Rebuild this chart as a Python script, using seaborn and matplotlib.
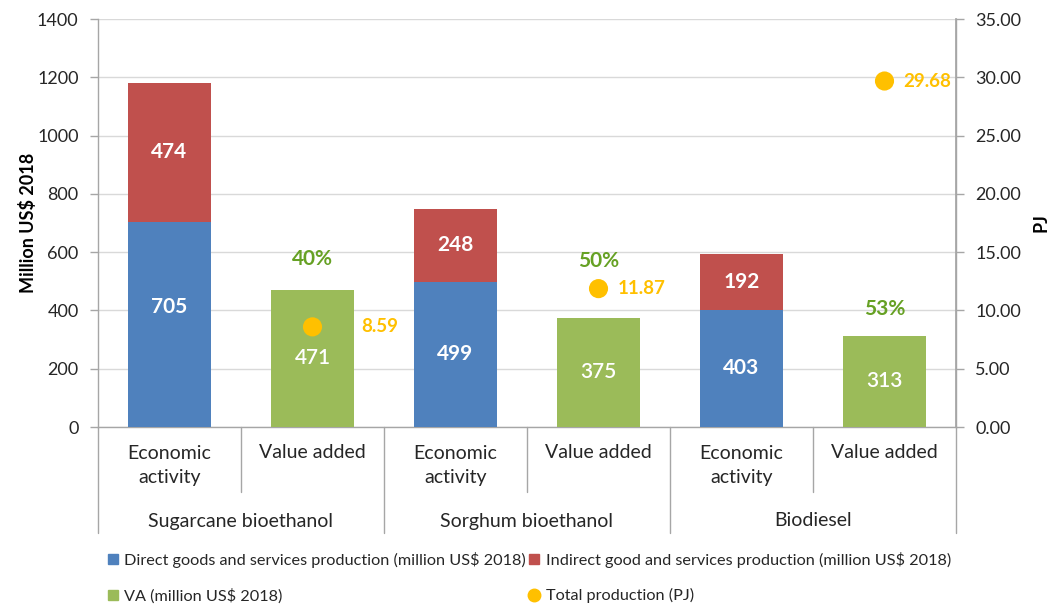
import matplotlib
matplotlib.use("Agg")
import matplotlib.pyplot as plt
import matplotlib.transforms as mtransforms
from matplotlib.patches import Patch
from matplotlib.lines import Line2D
import seaborn as sns
import pandas as pd

sns.set_theme(style="white")
plt.rcParams['font.family'] = ['Lato', 'DejaVu Sans']

# ---------------- data ----------------
groups = ["Sugarcane bioethanol", "Sorghum bioethanol", "Biodiesel"]
bar_kinds = ["Economic\nactivity", "Value added"]
direct = [705, 499, 403]
indirect = [474, 248, 192]
va = [471, 375, 313]
pj = [8.59, 11.87, 29.68]
va_share = ["40%", "50%", "53%"]
left_ticks = [0, 200, 400, 600, 800, 1000, 1200, 1400]
right_ticks = [0, 5, 10, 15, 20, 25, 30, 35]

legend_labels = ["Direct goods and services production (million US$ 2018)",
                 "Indirect good and services production (million US$ 2018)",
                 "VA (million US$ 2018)",
                 "Total production (PJ)"]

# ---------------- layout / style ----------------
C_BLUE = "#4F81BD"
C_RED = "#C0504D"
C_GREEN = "#9BBB59"
C_ORANGE = "#FFC000"
C_PCT = "#66A124"
C_AXIS = "#A6A6A6"
C_GRID = "#D9D9D9"
C_TEXT = "#262626"

positions = [f"{g}|{k}" for g in groups for k in ["econ", "va"]]
econ_pos = [f"{g}|econ" for g in groups]
va_pos = [f"{g}|va" for g in groups]

df_econ = pd.DataFrame({"pos": econ_pos,
                        "direct": direct,
                        "total": [d + i for d, i in zip(direct, indirect)]})
df_va = pd.DataFrame({"pos": va_pos, "va": va})
df_pj = pd.DataFrame({"x": [positions.index(p) for p in va_pos], "pj": pj})

W, H = 1056, 610
fig = plt.figure(figsize=(W / 100, H / 100), dpi=100)
ax = fig.add_axes([98 / W, 1 - 427 / H, (956 - 98) / W, 408 / H])

bw = 0.585
sns.barplot(data=df_econ, x="pos", y="total", order=positions, color=C_RED,
            width=bw, saturation=1, ax=ax, zorder=2)
sns.barplot(data=df_econ, x="pos", y="direct", order=positions, color=C_BLUE,
            width=bw, saturation=1, ax=ax, zorder=3)
sns.barplot(data=df_va, x="pos", y="va", order=positions, color=C_GREEN,
            width=bw, saturation=1, ax=ax, zorder=3)
for p in ax.patches:
    p.set_edgecolor("none")

ax.set_xlim(-0.5, 5.5)
ax.set_ylim(0, 1400)
ax.set_yticks(left_ticks)
ax.set_yticklabels([str(t) for t in left_ticks])
ax.set_xticks([])
ax.set_xlabel("")
ax.set_ylabel("Million US$ 2018", fontsize=13, fontweight="bold", color="black", labelpad=0)
ax.yaxis.grid(True, color=C_GRID, linewidth=1, zorder=0)
ax.set_axisbelow(True)
ax.spines["top"].set_visible(False)
for s in ["left", "right", "bottom"]:
    ax.spines[s].set_color(C_AXIS)
    ax.spines[s].set_linewidth(1)
ax.tick_params(axis="y", which="both", direction="out", length=6, width=1,
               color=C_AXIS, labelsize=13, labelcolor=C_TEXT, pad=8, left=True)

# value labels on bars
for i in range(len(groups)):
    xe = positions.index(econ_pos[i])
    xv = positions.index(va_pos[i])
    yd = direct[i] / 2
    if i == 0:
        yd = direct[i] / 2 + 60
    ax.text(xe, yd, f"{direct[i]}", ha="center", va="center", color="white",
            fontsize=15, fontweight="bold", zorder=5)
    ax.text(xe, direct[i] + indirect[i] / 2, f"{indirect[i]}", ha="center", va="center",
            color="white", fontsize=15, fontweight="bold", zorder=5)
    ax.text(xv, va[i] / 2, f"{va[i]}", ha="center", va="center", color="white",
            fontsize=15, fontweight="semibold", zorder=5)

pct_y = [576, 570, 405]
for i in range(len(groups)):
    xv = positions.index(va_pos[i])
    ax.text(xv, pct_y[i], va_share[i], ha="center", va="center", color=C_PCT,
            fontsize=15, fontweight="bold", zorder=5)

# secondary axis
ax2 = ax.twinx()
sns.scatterplot(data=df_pj, x="x", y="pj", ax=ax2, color=C_ORANGE, s=190,
                edgecolor="none", zorder=6, legend=False)
ax2.set_ylim(0, 35)
ax2.set_xlim(-0.5, 5.5)
ax2.set_yticks(right_ticks)
ax2.set_yticklabels([f"{t:.2f}" for t in right_ticks])
ax2.set_xlabel("")
ax2.set_ylabel("PJ", fontsize=13, fontweight="bold", color="black", labelpad=8)
for s in ["top", "left", "bottom"]:
    ax2.spines[s].set_visible(False)
ax2.spines["right"].set_color(C_AXIS)
ax2.tick_params(axis="y", which="both", direction="out", length=6, width=1,
                color=C_AXIS, labelsize=13, labelcolor=C_TEXT, pad=8, right=True)

pj_dx = [49, 19, 19]  # pixel offset of labels from dots
for i in range(len(groups)):
    xv = df_pj["x"][i]
    off = mtransforms.offset_copy(ax2.transData, fig=fig, x=pj_dx[i], y=0, units="dots")
    ax2.text(xv, pj[i], f"{pj[i]:.2f}", transform=off, ha="left", va="center",
             color=C_ORANGE, fontsize=13.5, fontweight="bold", zorder=7)

# hierarchical category axis
trans = mtransforms.blended_transform_factory(ax.transData, ax.transAxes)
y_short = -65 / 408
y_long = -106 / 408
for xb in [-0.5, 1.5, 3.5, 5.5]:
    ax.plot([xb, xb], [0, y_long], transform=trans, color=C_AXIS, lw=1, clip_on=False)
for xb in [0.5, 2.5, 4.5]:
    ax.plot([xb, xb], [0, y_short], transform=trans, color=C_AXIS, lw=1, clip_on=False)
for gi, g in enumerate(groups):
    for ki, k in enumerate(bar_kinds):
        xp = gi * 2 + ki
        yk = -38.5 / 408 if "\n" in k else -26 / 408
        ax.text(xp, yk, k, transform=trans, ha="center", va="center", fontsize=14,
                color=C_TEXT, linespacing=1.45)
    ax.text(gi * 2 + 0.5, -94 / 408, g, transform=trans, ha="center", va="center",
            fontsize=14, color=C_TEXT)

# legend
handles = [Patch(color=C_BLUE), Patch(color=C_GREEN), Patch(color=C_RED),
           Line2D([], [], marker="o", linestyle="none", color=C_ORANGE, markersize=9)]
labels = [legend_labels[0], legend_labels[2], legend_labels[1], legend_labels[3]]
leg = fig.legend(handles, labels, ncol=2, loc="upper left",
                 bbox_to_anchor=(108 / W, 1 - 552 / H), frameon=False,
                 fontsize=11.7, handlelength=0.6, handleheight=0.6, handletextpad=0.4,
                 columnspacing=0.2, labelspacing=1.25, borderaxespad=0, borderpad=0)
for t in leg.get_texts():
    t.set_color(C_TEXT)

fig.savefig("out.png", dpi=100)
